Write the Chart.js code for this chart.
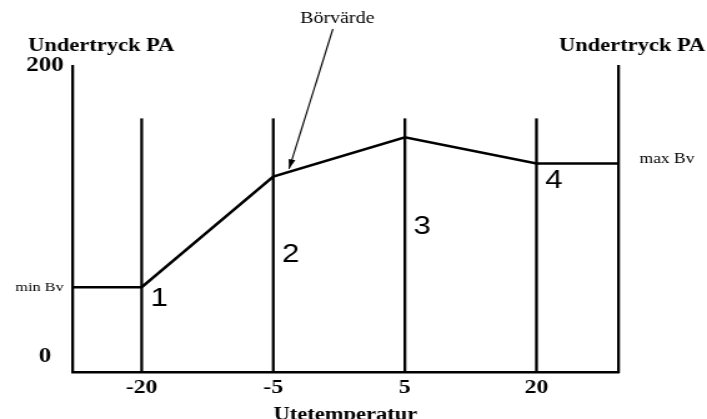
<!DOCTYPE html>
<html>
<head>
<meta charset="utf-8">
<script src="https://cdn.jsdelivr.net/npm/chart.js@4"></script>
<style>
  html, body { margin: 0; padding: 0; background: #fff; overflow: hidden; }
  /* the original figure is stretched sideways, so draw narrow and widen */
  #wrap { width: 566px; height: 419px; transform: scale(1.2491, 1); transform-origin: 0 0; }
</style>
</head>
<body>
<div id="wrap"><canvas id="chart"></canvas></div>
<script>
// Börvärde curve
const tempLabels = ['-20', '-5', '5', '20'];
const setpoints = [48, 124, 151, 133];
const yTicks = [0, 200];
const pointNumbers = ['1', '2', '3', '4'];

const X_MIN = -0.526, X_MAX = 3.622;
const Y_MIN = -10.3, Y_MAX = 200;
const GRID_TOP = 164;

const lineData = [{ x: X_MIN, y: setpoints[0] }]
  .concat(setpoints.map((v, i) => ({ x: i, y: v })))
  .concat([{ x: X_MAX, y: setpoints[setpoints.length - 1] }]);

const serif = '"Liberation Serif", "Times New Roman", serif';

// vertical lines at each temperature
const tempLines = {
  id: 'tempLines',
  beforeDatasetsDraw(chart) {
    const { ctx, chartArea: a, scales: { x, y } } = chart;
    ctx.save();
    ctx.strokeStyle = '#000';
    ctx.lineWidth = 2.3;
    tempLabels.forEach((t, i) => {
      const px = x.getPixelForValue(i);
      ctx.beginPath();
      ctx.moveTo(px, y.getPixelForValue(GRID_TOP));
      ctx.lineTo(px, a.bottom);
      ctx.stroke();
    });
    ctx.restore();
  }
};

const annotations = {
  id: 'annotations',
  afterDraw(chart) {
    const { ctx, chartArea: a, scales: { x, y } } = chart;
    ctx.save();
    ctx.fillStyle = '#000';
    ctx.strokeStyle = '#000';
    ctx.textBaseline = 'middle';

    ctx.font = 'bold 18px ' + serif;
    ctx.textAlign = 'center';
    ctx.fillText('Undertryck PA', a.left + 23, 46);
    ctx.fillText('Undertryck PA', a.right + 11, 46);

    ctx.font = '13px ' + serif;
    ctx.textAlign = 'right';
    ctx.fillText('min Bv', a.left - 7, y.getPixelForValue(setpoints[0]));
    ctx.font = '14px ' + serif;
    ctx.textAlign = 'left';
    ctx.fillText('max Bv', a.right + 17, y.getPixelForValue(setpoints[setpoints.length - 1]) - 4);

    // numbered points
    const numberY = [40, 70, 89, 121];
    ctx.font = '25px "Liberation Sans", Arial, sans-serif';
    ctx.textAlign = 'left';
    pointNumbers.forEach((n, i) => {
      ctx.fillText(n, x.getPixelForValue(i) + 7, y.getPixelForValue(numberY[i]));
    });

    // Börvärde label + arrow
    ctx.font = '16px ' + serif;
    ctx.textAlign = 'center';
    ctx.fillText('Börvärde', 270, 19);
    const t = 0.12;
    const x1 = x.getPixelForValue(1), y1 = y.getPixelForValue(setpoints[1]);
    const x2 = x.getPixelForValue(2), y2 = y.getPixelForValue(setpoints[2]);
    const tx = x1 + (x2 - x1) * t, ty = y1 + (y2 - y1) * t - 3;
    const sx = 266.5, sy = 29;
    ctx.lineWidth = 1.1;
    ctx.beginPath();
    ctx.moveTo(sx, sy);
    ctx.lineTo(tx, ty);
    ctx.stroke();
    const ang = Math.atan2(ty - sy, tx - sx);
    const len = 10, spread = 0.28;
    ctx.beginPath();
    ctx.moveTo(tx, ty);
    ctx.lineTo(tx - len * Math.cos(ang - spread), ty - len * Math.sin(ang - spread));
    ctx.lineTo(tx - len * Math.cos(ang + spread), ty - len * Math.sin(ang + spread));
    ctx.closePath();
    ctx.fill();
    ctx.restore();
  }
};

new Chart(document.getElementById('chart'), {
  type: 'line',
  data: {
    datasets: [{
      label: 'Börvärde',
      data: lineData,
      borderColor: '#000',
      borderWidth: 2.5,
      pointRadius: 0,
      tension: 0,
      fill: false
    }]
  },
  options: {
    responsive: true,
    maintainAspectRatio: false,
    animation: false,
    layout: { padding: { top: 66, right: 71, bottom: 0, left: 0 } },
    plugins: {
      legend: { display: false },
      tooltip: { enabled: false }
    },
    scales: {
      x: {
        type: 'linear',
        min: X_MIN,
        max: X_MAX,
        afterBuildTicks: (scale) => { scale.ticks = tempLabels.map((_, i) => ({ value: i })); },
        afterFit: (scale) => { scale.height = 47; },
        ticks: {
          color: '#000',
          font: { family: serif, size: 19, weight: 'bold' },
          padding: 5,
          maxRotation: 0,
          callback: (v) => tempLabels[v]
        },
        grid: { display: false, drawTicks: false, tickLength: 0 },
        border: { display: true, color: '#000', width: 2.5 },
        title: {
          display: true,
          text: 'Utetemperatur',
          color: '#000',
          font: { family: serif, size: 18, weight: 'bold' },
          padding: { top: 0, bottom: -7 }
        }
      },
      y: {
        min: Y_MIN,
        max: Y_MAX,
        afterBuildTicks: (scale) => { scale.ticks = yTicks.map(v => ({ value: v })); },
        afterFit: (scale) => { scale.width = 58; },
        ticks: {
          color: '#000',
          font: { family: serif, size: 20, weight: 'bold' },
          crossAlign: 'center',
          padding: 7
        },
        grid: { display: false, drawTicks: false, tickLength: 0 },
        border: { display: true, color: '#000', width: 2.3 }
      },
      y2: {
        position: 'right',
        min: Y_MIN,
        max: Y_MAX,
        afterFit: (scale) => { scale.width = 0; },
        ticks: { display: false },
        grid: { display: false, drawTicks: false },
        border: { display: true, color: '#000', width: 2.3 }
      }
    }
  },
  plugins: [tempLines, annotations]
});
</script>
</body>
</html>
